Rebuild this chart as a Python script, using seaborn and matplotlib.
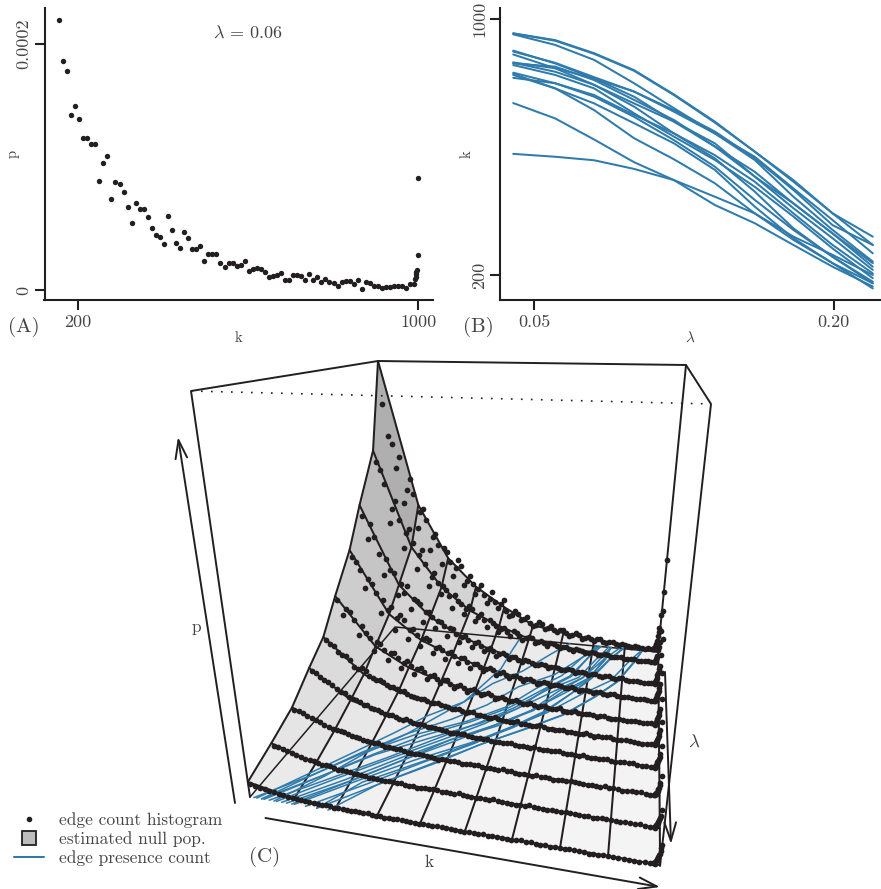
import matplotlib
matplotlib.use("Agg")
import matplotlib.pyplot as plt
from matplotlib.lines import Line2D
import seaborn as sns
import pandas as pd
import numpy as np

sns.set_theme(style="ticks")
plt.rcParams['font.family'] = ['cmr10', 'DejaVu Serif']
plt.rcParams['mathtext.fontset'] = 'cm'
plt.rcParams['axes.formatter.use_mathtext'] = True

# panel A : histogram at lambda = 0.06
k_a = [155,164.5,174,183.5,193,202.5,212,221.5,231,240.5,250,259.5,269,278.5,288,297.5,307,316.5,326,335.5,
       345,354.5,364,373.5,383,392.5,402,411.5,421,430.5,440,449.5,459,468.5,478,487.5,497,506.5,516,525.5,
       535,544.5,554,563.5,573,582.5,592,601.5,611,620.5,630,639.5,649,658.5,668,677.5,687,696.5,706,715.5,
       725,734.5,744,753.5,763,772.5,782,791.5,801,810.5,820,829.5,839,848.5,858,867.5,877,886.5,896,905.5,
       915,924.5,934,943.5,953,962.5,972,981.5,991,992,994,995.5,996,998,1000,1000]
p_a = [2.195,1.859,1.778,1.424,1.497,1.386,1.234,1.234,1.185,1.185,.888,1.031,1.088,.736,.880,.858,.798,.671,.544,.704,
       .658,.658,.590,.503,.447,.433,.373,.598,.487,.382,.341,.471,.422,.333,.333,.360,.238,.295,.295,.295,
       .222,.189,.222,.217,.198,.203,.238,.157,.173,.181,.168,.149,.108,.116,.119,.135,.078,.078,.119,.119,
       .111,.078,.127,.078,.103,.062,.087,.062,.054,.030,.062,.070,.070,.046,.078,.005,.062,.054,.032,.032,
       .016,.022,.022,.032,.032,.032,.014,.046,.046,.087,.108,.130,.149,.162,.284,.912]

# panel B : edge presence count, one list per edge
lam_grid = [.0454,.0551,.066,.0794,.0955,.1154,.1388,.166,.199,.2397]
edge_counts = [
    [956,933,892,839,763,677,586,497,393,320],
    [956,935,894,841,765,680,586,492,393,294],
    [953,920,873,800,722,643,570,471,372,268],
    [902,862,815,774,716,649,565,466,356,294],
    [899,864,819,774,711,643,560,445,341,242],
    [890,847,795,737,680,602,523,424,330,237],
    [865,847,815,758,680,612,508,409,315,216],
    [864,836,795,727,643,575,492,393,294,205],
    [857,826,784,706,633,560,476,383,283,190],
    [833,800,758,695,622,539,435,341,257,179],
    [829,784,737,675,612,529,414,315,237,158],
    [817,800,763,701,643,565,461,346,257,174],
    [826,784,716,628,562,487,393,310,237,174],
    [738,690,624,553,497,419,362,294,226,164],
    [579,570,559,532,497,445,393,320,263,200],
    [862,852,810,748,685,602,508,424,330,226],
]

# panel C : null surface, per mille of box height, rows are lam_grid, columns k_grid
k_grid = [150,244,339,433,528,622,717,811,906,1000]
surface = [
    [1000,465,274,176,110,54,36,22,14,6],
    [680,336,200,125,80,45,30,20,12,6],
    [517,250,150,95,60,36,25,16,10,5],
    [393,190,115,75,48,30,20,14,9,5],
    [287,140,85,55,36,24,16,12,8,5],
    [200,100,60,40,27,18,13,10,7,4],
    [153,75,45,30,20,14,11,8,6,4],
    [97,50,30,20,14,10,8,6,5,4],
    [65,30,18,12,9,7,6,5,4,3],
    [37,15,9,6,5,4,4,3,3,2],
]

# panel C : histogram per lambda, odd bins
k_c = [155,174,193,212,231,250,269,288,307,326,345,364,383,402,421,440,459,478,497,516,535,554,573,592,611,
       630,649,668,687,706,725,744,763,782,801,820,839,858,877,896,915,934,953,972,991]
hist_rows = [
    [840,690,640,520,505,440,410,350,320,310,262,240,250,195,185,170,150,135,125,120,95,85,90,72,60,55,60,48,42,45,36,32,34,26,22,24,18,20,15,16,12,13,9,10,8],
    [640,560,470,430,385,350,310,280,235,215,205,170,175,145,130,132,105,95,98,78,70,62,66,50,45,47,38,34,36,28,27,24,26,20,18,20,15,16,12,13,10,11,8,9,7],
    [480,455,350,335,290,255,250,205,190,165,150,140,125,120,100,92,85,76,70,62,55,48,46,42,36,38,30,27,29,24,22,19,21,16,15,16,12,13,10,11,8,9,7,7,6],
    [370,330,300,255,235,215,180,175,145,130,120,118,95,90,82,74,72,60,55,50,45,42,36,34,32,28,26,23,21,22,18,17,15,15,13,12,11,10,10,8,8,7,7,6,6],
    [275,250,215,200,165,155,130,125,110,98,90,84,76,68,60,58,50,46,42,40,35,32,30,26,25,22,20,19,17,17,14,14,12,12,10,10,9,9,8,8,7,7,6,6,5],
    [190,175,150,140,115,110,92,90,76,72,62,58,52,48,44,40,36,34,30,28,27,23,22,20,18,17,15,14,13,13,12,10,10,9,9,8,8,7,7,6,6,5,5,5,4],
    [145,130,120,100,92,78,72,65,58,52,46,44,38,36,32,30,28,25,23,21,20,18,16,16,14,13,13,11,11,10,10,9,9,8,8,7,7,6,6,6,5,5,5,4,4],
    [92,85,75,68,58,52,50,42,38,34,30,28,27,23,21,20,18,17,15,14,13,12,11,11,10,10,9,9,8,8,7,7,7,6,6,6,6,5,5,5,5,4,4,4,4],
    [60,55,48,40,36,32,30,26,24,20,18,17,16,14,13,12,11,11,10,9,9,8,8,7,7,7,6,7,6,5,6,5,5,5,4,5,4,4,4,4,3,4,3,3,3],
    [33,28,24,20,17,15,14,12,11,10,9,9,8,7,7,6,6,6,5,5,5,4,5,4,4,4,4,3,4,3,3,3,3,3,3,2,3,2,2,3,2,2,2,2,2],
]
# even bins
k_c_b = [164.5,183.5,202.5,221.5,240.5,259.5,278.5,297.5,316.5,335.5,354.5,373.5,392.5,411.5,430.5,449.5,468.5,487.5,506.5,525.5,
         544.5,563.5,582.5,601.5,620.5,639.5,658.5,677.5,696.5,715.5,734.5,753.5,772.5,791.5,810.5,829.5,848.5,867.5,886.5,905.5,
         924.5,943.5,962.5,981.5]
hist_rows_b = [
    [720,600,470,560,380,450,300,360,250,295, 210,270,180,215,150,185,120,160,105,135, 80,100,68,82,50,66,44,56,36,48, 28,38,22,30,18,26,14,20,11,15, 9,12,7,9],
    [610,420,500,330,400,260,330,200,250,175, 190,130,155,110,140,88,115,72,90,60, 75,48,60,38,52,32,42,26,34,22, 30,18,24,15,20,12,17,10,14,8, 11,7,9,6],
    [400,410,280,300,215,225,170,200,130,165, 115,135,90,115,75,95,62,82,52,65, 42,54,34,44,28,36,24,30,20,26, 16,22,13,19,11,17,9,14,8,12, 6,10,5,8],
    [355,270,285,190,205,140,190,115,150,95, 125,78,100,62,88,52,72,42,58,36, 48,28,40,24,34,20,28,16,25,14, 20,12,18,10,15,9,13,7,11,6, 9,5,8,4],
    [230,240,170,180,125,150,100,125,80,105, 66,88,55,72,48,60,38,50,32,44, 26,36,22,30,19,26,15,23,13,19, 11,17,9,14,8,12,7,11,6,9, 5,8,4,7],
    [180,160,150,120,118,98,88,85,70,68, 64,52,50,50,38,42,36,30,32,24, 28,22,18,24,17,14,19,13,11,16, 10,8,13,8,7,11,5,7,9,4, 7,6,3,6],
    [140,122,112,95,82,78,66,60,56,48, 48,40,40,32,34,26,28,24,20,22, 22,16,16,18,11,13,15,9,10,13, 8,8,11,6,7,10,5,6,8,4, 6,7,3,5],
    [90,80,72,62,54,50,44,40,36,31, 32,24,26,24,18,17,19,15,12,15, 14,10,13,12,8,9,12,10,6,7, 10,8,4,6,9,7,3,5,8,6, 3,5,6,3],
    [58,50,44,38,34,28,28,22,22,17, 18,14,15,11,12,13,9,8,11,10, 7,7,10,8,5,6,9,7,4,5, 8,6,3,4,7,5,3,3,6,5, 2,4,5,3],
    [30,26,22,18,16,13,13,10,11,8, 9,7,7,8,6,4,5,6,5,3, 4,6,5,3,2,4,5,3,2,3, 5,4,2,1,3,4,3,1,2,3, 3,1,2,2],
]
# last bins, the spike at k = 1000
k_end = [985,987,989,991,992,993,994,995,996,997,998,999,1000]
hist_end = [
    [8,10,12,16,22,28,36,55,70,85,130,210,320],
    [7,9,10,14,18,24,30,48,60,75,115,180],
    [7,9,12,16,20,26,34,42,54,65,100,150],
    [6,8,10,14,18,24,30,38,46,58,92],
    [6,7,9,13,16,22,28,34,42,52,80],
    [6,7,9,12,16,20,25,30,38,46,70],
    [5,6,8,11,14,18,22,27,34,42,62],
    [5,6,8,10,13,16,20,24,30,36,52],
    [4,5,7,9,11,14,17,21,26,32,46],
    [3,5,7,9,12,15,18,22,26,32,38,46],
]

# look of the 3d box, in picture pixels
floor_box = [(395,627),(658,652),(660,866),(250,797)]   # back left, back right, front right, front left
top_box = [(378,361),(686,365),(711,404),(191,391)]
u_frac = [0,.11,.21,.31,.415,.524,.639,.756,.873,1]
v_frac = [0,.06,.16,.24,.35,.445,.55,.68,.83,1]

INK = '#231f20'
TXT = '#444444'
BLUE = '#2f7bab'
W, H = 881, 889


def bilin(box, u, v):
    box = np.array(box, dtype=float)
    bl, br, fr, fl = box
    u = np.asarray(u, dtype=float)[..., None]
    v = np.asarray(v, dtype=float)[..., None]
    return (1-v)*((1-u)*bl + u*br) + v*((1-u)*fl + u*fr)


def project(k, lam, h):
    u = np.interp(k, k_grid, u_frac)
    v = np.interp(np.log(lam), np.log(lam_grid), v_frac)
    f = bilin(floor_box, u, v)
    t = bilin(top_box, u, v)
    h = np.asarray(h, dtype=float)[..., None] / 1000
    xy = f + h*(t-f)
    return xy[..., 0], xy[..., 1]


def px_axes(fig, x0, x1, y0, y1):
    return fig.add_axes([x0/W, 1-y1/H, (x1-x0)/W, (y1-y0)/H])


def style_axes(ax):
    sns.despine(ax=ax)
    for s in ['left', 'bottom']:
        ax.spines[s].set_linewidth(1.5)
        ax.spines[s].set_color(INK)
    ax.minorticks_off()
    ax.tick_params(which='major', length=7.2, width=1.5, color=INK, labelcolor=TXT, labelsize=13, pad=3.5)
    ax.tick_params(axis='y', pad=2)
    for t in ax.get_yticklabels():
        t.set_rotation(90)
        t.set_va('center')


fig = plt.figure(figsize=(W/100, H/100), dpi=100)

# A
ax_a = px_axes(fig, 44.5, 433, 8, 300)
sns.scatterplot(x=k_a, y=np.array(p_a)*1e-4, ax=ax_a, color=INK, s=15, linewidth=0)
ax_a.set_xlim(121, 1035)
ax_a.set_ylim(-8.12e-6, 2.29e-4)
ax_a.set_xticks([200, 1000], ['200', '1000'])
ax_a.set_yticks([0, 2e-4], ['0', '0.0002'])
style_axes(ax_a)
ax_a.set_xlabel('k', fontsize=10.5, color=TXT, labelpad=1)
ax_a.set_ylabel('p', fontsize=10.5, color=TXT, labelpad=-2)

# B
ax_b = px_axes(fig, 500, 881, 8, 300)
edges = pd.DataFrame({
    'lam': np.tile(lam_grid, len(edge_counts)),
    'k': np.ravel(edge_counts),
    'edge': np.repeat(np.arange(len(edge_counts)), len(lam_grid)),
})
ax_b.set_xscale('log')
sns.lineplot(data=edges, x='lam', y='k', units='edge', estimator=None, color=BLUE, lw=1.45, ax=ax_b)
ax_b.set_xlim(.0427, .2490)
ax_b.set_ylim(121.8, 1035.4)
ax_b.set_xticks([.05, .2], ['0.05', '0.20'])
ax_b.set_yticks([200, 1000], ['200', '1000'])
style_axes(ax_b)
ax_b.set_xlabel(r'$\lambda$', fontsize=11, color=TXT, labelpad=0)
ax_b.set_ylabel('k', fontsize=10.5, color=TXT, labelpad=-1)

# C, drawn in picture pixels through project()
ax_c = fig.add_axes([0, 0, 1, 1], facecolor='none')
ax_c.set_xlim(0, W)
ax_c.set_ylim(H, 0)
ax_c.set_axis_off()

ax_c.fill(*zip(*floor_box), color='#f2f2f2', lw=0, zorder=1)

grid_k, grid_l = np.meshgrid(k_grid, lam_grid)
gx, gy = project(grid_k, grid_l, np.array(surface))
surf = np.array(surface) / 1000
for j in range(9):
    for i in range(9):
        mean_h = surf[j:j+2, i:i+2].mean()
        grey = 0.97 - 0.38*mean_h**0.6
        ax_c.fill([gx[j, i], gx[j, i+1], gx[j+1, i+1], gx[j+1, i]],
                  [gy[j, i], gy[j, i+1], gy[j+1, i+1], gy[j+1, i]],
                  color=str(grey), lw=0.3, zorder=2)
for j in range(10):
    ax_c.plot(gx[j], gy[j], color=INK, lw=1.45, zorder=3)
for i in range(10):
    ax_c.plot(gx[:, i], gy[:, i], color=INK, lw=1.45, zorder=3)

# floor edges seen through the surface
ax_c.plot(*zip(floor_box[3], floor_box[0], floor_box[1]), color=INK, lw=1.1, zorder=3)

# blue floor lines use the same counts as panel B
fx, fy = project(edges['k'].to_numpy(), edges['lam'].to_numpy(), np.zeros(len(edges)))
floor_edges = pd.DataFrame({'x': fx, 'y': fy, 'edge': edges['edge']})
sns.lineplot(data=floor_edges, x='x', y='y', units='edge', estimator=None, sort=False,
             color=BLUE, lw=1.1, ax=ax_c, zorder=4)

xs, ys = [], []
for lam, row, row_b, end in zip(lam_grid, hist_rows, hist_rows_b, hist_end):
    for k_vals, h_vals in [(k_c, row), (k_c_b, row_b), (k_end[-len(end):], end)]:
        x, y = project(np.array(k_vals), np.full(len(k_vals), lam), np.array(h_vals))
        xs += list(x)
        ys += list(y)
sns.scatterplot(x=xs, y=ys, ax=ax_c, color=INK, s=17, linewidth=0, zorder=5)
ax_c.set_xlim(0, W)
ax_c.set_ylim(H, 0)
ax_c.set_xlabel('')
ax_c.set_ylabel('')

# box
ax_c.plot(*zip((250,797),(191,391),(378,361),(686,365),(711,404),(660,866)), color=INK, lw=1.4, zorder=6)
ax_c.plot(*zip((686,365),(658,652)), color=INK, lw=1.4, zorder=6)
ax_c.plot(*zip((191,391),(711,404)), color=INK, lw=1.2, ls=(0, (1, 5)), zorder=6)

# axis arrows
arrow = dict(arrowstyle='->,head_length=1.1,head_width=0.35', color=INK, lw=1.4, shrinkA=0, shrinkB=0)
for tail, tip in [((235,803),(178,437)), ((265.5,818),(660,887)), ((665,672),(671,844))]:
    ax_c.annotate('', xy=tip, xytext=tail, arrowprops=arrow, zorder=6)

for label, x, y, fs in [('(A)', 24, 327, 15), ('(B)', 478, 327, 15), ('(C)', 265, 857, 15),
                        ('p', 196, 627, 12.5), ('k', 429, 862, 12.5), (r'$\lambda$', 694, 742, 13.5),
                        (r'$\lambda\,=\,0.06$', 248, 33, 13)]:
    ax_c.text(x, y, label, fontsize=fs, color=TXT, ha='center', va='center')

handles = [Line2D([], [], ls='', marker='o', ms=3.0, color=INK),
           Line2D([], [], ls='', marker='s', ms=9.5, mfc='#bdbdbd', mec=INK, mew=1.3),
           Line2D([], [], color=BLUE, lw=1.45)]
ax_c.legend(handles, ['edge count histogram', 'estimated null pop.', 'edge presence count'],
            loc='lower left', bbox_to_anchor=(14, 866), bbox_transform=ax_c.transData,
            frameon=False, fontsize=12.5, labelcolor=TXT, borderpad=0, borderaxespad=0,
            handlelength=1.72, handleheight=0.8, handletextpad=0.85, labelspacing=0.17)

fig.savefig('out.png', dpi=100)
